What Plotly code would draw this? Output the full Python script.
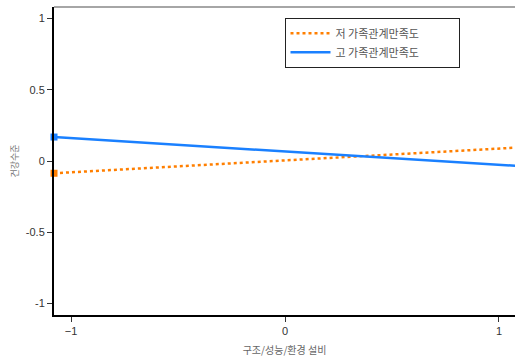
import plotly.graph_objects as go

x_vals = [-1.08, 1.08]
low_vals = [-0.086, 0.094]
high_vals = [0.168, -0.034]
series_names = ["저 가족관계만족도", "고 가족관계만족도"]
x_ticks = [-1, 0, 1]
y_ticks = [-1, -0.5, 0, 0.5, 1]

colors = ["#FF7F00", "#1A80FF"]
dashes = ["dot", "solid"]
pad = "\u00a0" * 14

fig = go.Figure()
for vals, name, c, d in zip([low_vals, high_vals], series_names, colors, dashes):
    fig.add_trace(go.Scatter(
        x=x_vals, y=vals, name=name + pad, mode="lines",
        line=dict(color=c, width=2.5, dash=d),
    ))
    fig.add_trace(go.Scatter(
        x=x_vals, y=vals, mode="markers", showlegend=False,
        marker=dict(symbol="square", size=7, color=c),
        cliponaxis=False,
    ))

fig.update_layout(
    width=515, height=359,
    margin=dict(l=54, r=0, t=7, b=44),
    paper_bgcolor="white", plot_bgcolor="white",
    font=dict(family="Liberation Sans, Noto Sans CJK KR", size=11, color="#333"),
    showlegend=True,
    legend=dict(
        x=0.5, y=0.965, xanchor="left", yanchor="top",
        bordercolor="#222", borderwidth=1, bgcolor="white",
        font=dict(size=11, color="#555", family="Noto Sans CJK KR"),
        tracegroupgap=0, itemwidth=40,
    ),
    xaxis=dict(
        range=[-1.08, 1.075], tickvals=x_ticks, ticks="outside", ticklen=5,
        tickcolor="#333", showline=True, linecolor="black", linewidth=2,
        showgrid=False, zeroline=False,
        title=dict(text="구조/성능/환경 설비", font=dict(size=10, color="#666", family="Noto Sans CJK KR"), standoff=11),
    ),
    yaxis=dict(
        range=[-1.08, 1.08], tickvals=y_ticks, ticktext=["-1", "-0.5", "0", "0.5", "1"],
        ticks="outside", ticklen=5, tickcolor="#333",
        showline=True, linecolor="black", linewidth=2,
        showgrid=False, zeroline=False,
        title=dict(text="건강수준", font=dict(size=9, color="#777", family="Noto Sans CJK KR"), standoff=6),
    ),
    shapes=[dict(type="line", xref="paper", yref="paper", x0=0, x1=1, y0=1, y1=1,
                 line=dict(color="#888", width=1.5))],
)

fig.write_html("out.html")
